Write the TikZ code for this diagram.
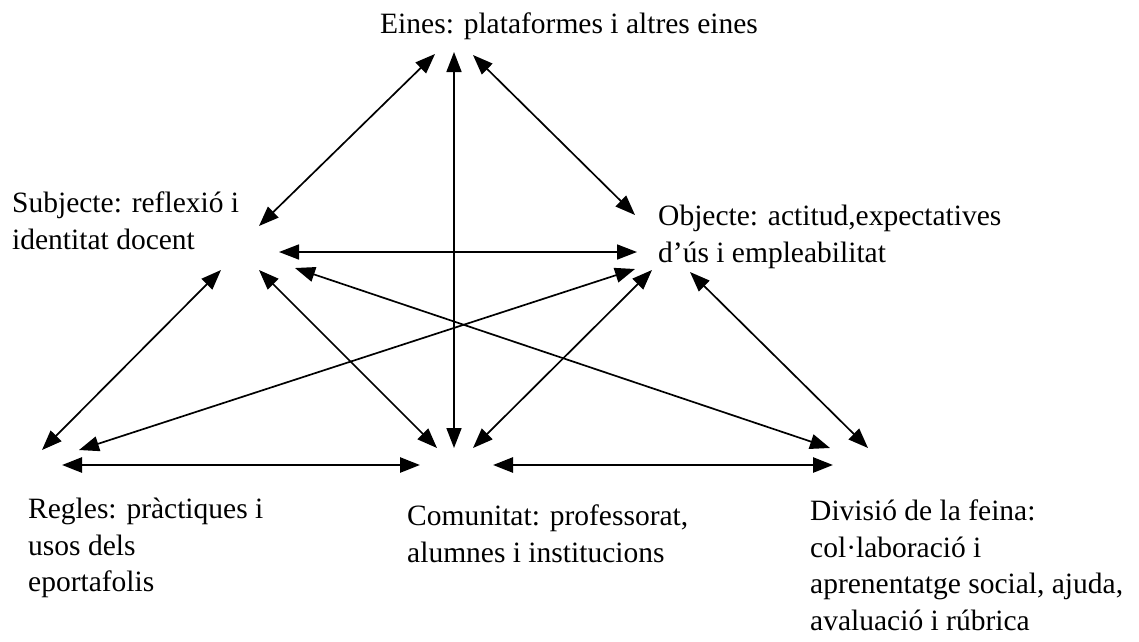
\documentclass[tikz,border=0pt]{standalone}
\usepackage{fontspec}
\setmainfont{Liberation Serif}
\usetikzlibrary{arrows.meta}

\begin{document}
\begin{tikzpicture}[x=1pt,y=-1pt,
		etiqueta/.style={inner sep=0pt,align=left,font=\fontsize{29.5}{36.5}\selectfont},
		relacio/.style={{Triangle[length=20pt,width=15pt]}-{Triangle[length=20pt,width=15pt]},line width=1.7pt},
		relaciobaix/.style={relacio,line width=2.6pt}]
	\useasboundingbox (0,0) rectangle (1139,641);
	\node[etiqueta,anchor=base west] (eines) at (380,33) {Eines: plataformes i altres eines};
	\node[etiqueta,anchor=north west] (subj) at (12,192) {Subjecte: reflexió i\\identitat docent};
	\node[etiqueta,anchor=north west] (obj) at (658,205) {Objecte: actitud,expectatives\\d'ús i empleabilitat};
	\node[etiqueta,anchor=north west] (regles) at (28,498) {Regles: pràctiques i\\usos dels\\eportafolis};
	\node[etiqueta,anchor=north west] (com) at (407,505) {Comunitat: professorat,\\alumnes i institucions};
	\node[etiqueta,anchor=north west] (div) at (810,500) {Divisió de la feina:\\col·laboració i\\aprenentatge social, ajuda,\\avaluació i rúbrica};
	\coordinate (ein-s) at (435,54);
	\coordinate (ein-c) at (454,52);
	\coordinate (ein-o) at (473,55);
	\coordinate (sub-e) at (259,226);
	\coordinate (sub-o) at (279,252);
	\coordinate (sub-r) at (221,270);
	\coordinate (sub-c) at (259,270);
	\coordinate (sub-d) at (295,268);
	\coordinate (obj-e) at (635,215);
	\coordinate (obj-s) at (637,252);
	\coordinate (obj-r) at (635,269);
	\coordinate (obj-c) at (652,270);
	\coordinate (obj-d) at (690,272);
	\coordinate (reg-s) at (42,450);
	\coordinate (reg-o) at (79,450);
	\coordinate (reg-c) at (62,465);
	\coordinate (com-s) at (437,448);
	\coordinate (com-e) at (454,448);
	\coordinate (com-o) at (473,448);
	\coordinate (com-r) at (420,465);
	\coordinate (com-d) at (493,465);
	\coordinate (div-s) at (830,448);
	\coordinate (div-o) at (868,448);
	\coordinate (div-c) at (833,465);
	\foreach \a/\b in {ein-s/sub-e,ein-c/com-e,ein-o/obj-e,sub-o/obj-s,sub-r/reg-s,obj-r/reg-o,sub-c/com-s,sub-d/div-s,obj-c/com-o,obj-d/div-o}
		\draw[relacio] (\a) -- (\b);
	\foreach \a/\b in {reg-c/com-r,com-d/div-c}
		\draw[relaciobaix] (\a) -- (\b);
\end{tikzpicture}
\end{document}
